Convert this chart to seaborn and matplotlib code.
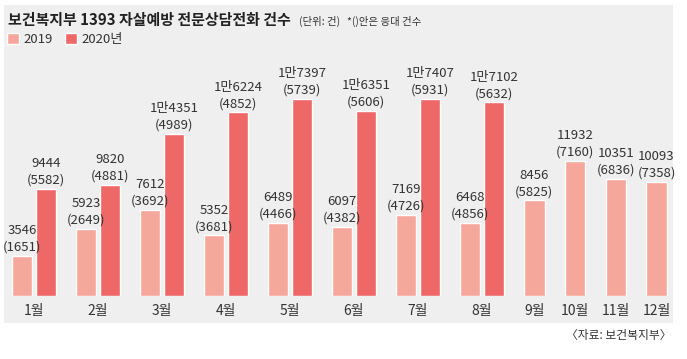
import matplotlib
matplotlib.use('Agg')
import matplotlib.pyplot as plt
from matplotlib.patches import Rectangle, Patch
import numpy as np
import pandas as pd
import seaborn as sns

# ---------------------------------------------------------
# Data (1393 suicide-prevention hotline calls, answered in parentheses)
# ---------------------------------------------------------
months = ['1월', '2월', '3월', '4월', '5월', '6월', '7월', '8월', '9월', '10월', '11월', '12월']
calls_2019 = [3546, 5923, 7612, 5352, 6489, 6097, 7169, 6468, 8456, 11932, 10351, 10093]
answered_2019 = [1651, 2649, 3692, 3681, 4466, 4382, 4726, 4856, 5825, 7160, 6836, 7358]
calls_2020 = [9444, 9820, 14351, 16224, 17397, 16351, 17407, 17102]
answered_2020 = [5582, 4881, 4989, 4852, 5739, 5606, 5931, 5632]

# ---------------------------------------------------------
# Layout (pixels)
# ---------------------------------------------------------
W, H = 687, 359
PAIR_SLOT = 64
SINGLE_SLOT = 40.7
SLOT_START = 2
BAR_W = 20.5
OFFSET = 12
BASE_Y = 296           # pixel row of the bar baseline
PX_PER_CALL = 0.01132  # bar height scale

C19 = '#f5a79c'
C20 = '#ee6868'
TXT = '#333333'
CJK = ['Noto Sans CJK KR', 'DejaVu Sans']
LABEL_SIZE = 9.5


def fmt_man(v):
    # 2020 numbers above 10,000 are written as "1만xxxx"
    if v >= 10000:
        return f"{v // 10000}만{v % 10000:04d}"
    return str(v)


centers = []
left = SLOT_START
for i in range(len(months)):
    slot = PAIR_SLOT if i < len(calls_2020) else SINGLE_SLOT
    centers.append(left + slot / 2)
    left += slot

rows = []
for i, m in enumerate(months):
    paired = i < len(calls_2020)
    x19 = centers[i] - OFFSET if paired else centers[i]
    rows.append(dict(x=x19, year='2019', calls=calls_2019[i],
                     label=str(calls_2019[i]), answered=answered_2019[i]))
    if paired:
        rows.append(dict(x=centers[i] + OFFSET, year='2020년', calls=calls_2020[i],
                         label=fmt_man(calls_2020[i]), answered=answered_2020[i]))
df = pd.DataFrame(rows)

# ---------------------------------------------------------
# Figure
# ---------------------------------------------------------
sns.set_style('white')
plt.rcParams['font.family'] = CJK

fig = plt.figure(figsize=(W / 100, H / 100), dpi=100)
fig.patch.set_facecolor('white')
fig.patches.append(Rectangle((4 / W, 36 / H), 669 / W, 318 / H, transform=fig.transFigure,
                             facecolor='#efefef', edgecolor='none', zorder=-1))

ax = fig.add_axes([0, (H - BASE_Y) / H, 1, BASE_Y / H])
ax.patch.set_visible(False)

min_gap = np.diff(np.unique(df['x'])).min()
sns.barplot(data=df, x='x', y='calls', hue='year', native_scale=True, dodge=False,
            width=BAR_W / min_gap, palette={'2019': C19, '2020년': C20},
            saturation=1, errorbar=None, legend=False, ax=ax)

ax.set_xlim(0, W)
ax.set_ylim(0, BASE_Y / PX_PER_CALL)
ax.set_xticks(centers)
ax.set_xticklabels(months, fontsize=10, color=TXT)
ax.tick_params(axis='x', length=0, pad=6)
ax.set_yticks([])
ax.set_xlabel('')
ax.set_ylabel('')
for s in ax.spines.values():
    s.set_visible(False)

# value labels: total on top, answered in parentheses below
for _, r in df.iterrows():
    ax.annotate(f"({r['answered']})", (r['x'], r['calls']), xytext=(0, 1.5),
                textcoords='offset points', ha='center', va='bottom',
                fontsize=LABEL_SIZE, color=TXT)
    ax.annotate(r['label'], (r['x'], r['calls']), xytext=(0, 13.5),
                textcoords='offset points', ha='center', va='bottom',
                fontsize=LABEL_SIZE, color=TXT)

# title, notes, legend, source
fig.text(8 / W, 1 - 20 / H, '보건복지부 1393 자살예방 전문상담전화 건수', fontsize=10.8,
         fontweight='bold', va='center', color='#222222')
fig.text(299 / W, 1 - 21 / H, '(단위: 건)', fontsize=7.5, va='center', color=TXT)
fig.text(347 / W, 1 - 21 / H, '*()안은 응대 건수', fontsize=7.5, va='center', color=TXT)

handles = [Patch(facecolor=C19, label='2019'), Patch(facecolor=C20, label='2020년')]
fig.legend(handles=handles, loc='upper left', bbox_to_anchor=(7 / W, 1 - 33 / H),
           ncol=2, frameon=False, borderaxespad=0, borderpad=0, handlelength=0.9,
           handleheight=0.9, handletextpad=0.35, columnspacing=0.9,
           prop={'size': 9.5}, labelcolor=TXT)

fig.text(672 / W, 1 - 335 / H, '〈자료: 보건복지부〉', fontsize=8.5, ha='right',
         va='center', color=TXT)

fig.savefig('out.png', dpi=100)
plt.close(fig)
